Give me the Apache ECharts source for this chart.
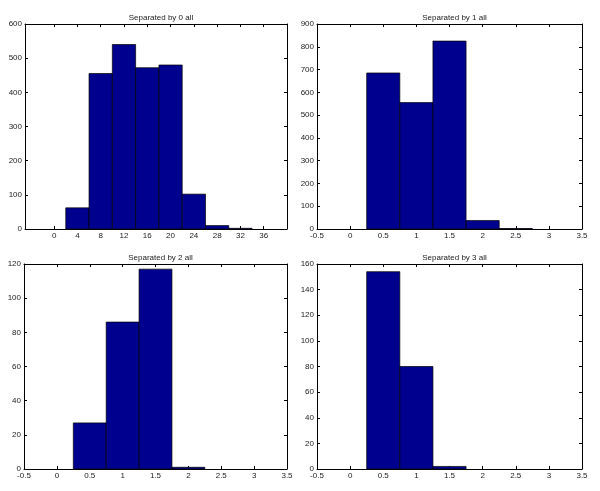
<!DOCTYPE html>
<html>
<head>
<meta charset="utf-8">
<script src="https://cdn.jsdelivr.net/npm/echarts@6/dist/echarts.min.js"></script>
<style>
html,body{margin:0;padding:0;background:#fff;}
#chart{width:600px;height:491px;}
</style>
</head>
<body>
<div id="chart"></div>
<script>
// ---- data ----
const titles = ['Separated by 0 all', 'Separated by 1 all', 'Separated by 2 all', 'Separated by 3 all'];

const centers0 = [0, 4, 8, 12, 16, 20, 24, 28, 32, 36];
const counts0  = [0, 62, 455, 540, 472, 480, 102, 10, 2, 0];

const centers1 = [0.5, 1.0, 1.5, 2.0, 2.5, 3.0];
const counts1  = [685, 555, 825, 37, 2, 0];

const centers2 = [0.5, 1.0, 1.5, 2.0, 2.5, 3.0];
const counts2  = [27, 86, 117, 1, 0, 0];

const centers3 = [0.5, 1.0, 1.5, 2.0, 2.5, 3.0];
const counts3  = [154, 80, 2, 0, 0, 0];

const binWidths = [4, 0.5, 0.5, 0.5];

const xTicks0 = [0, 4, 8, 12, 16, 20, 24, 28, 32, 36];
const xRanges = [[-5, 40], [-0.5, 3.5], [-0.5, 3.5], [-0.5, 3.5]];
const yMax = [600, 900, 120, 160];
const yStep = [100, 100, 20, 20];

// ---- layout ----
const gridsPos = [
  {left: 25, top: 24, width: 262, height: 205},
  {left: 317, top: 24, width: 265, height: 205},
  {left: 24, top: 264, width: 263, height: 205},
  {left: 317, top: 264, width: 265, height: 205}
];
const textColor = '#222';
const fontFamily = 'Liberation Sans, Arial, sans-serif';
const barColor = '#00008F';

const allCenters = [centers0, centers1, centers2, centers3];
const allCounts = [counts0, counts1, counts2, counts3];

const grid = [], xAxis = [], yAxis = [], series = [], title = [];

for (let i = 0; i < 4; i++) {
  const g = gridsPos[i];
  grid.push(Object.assign({containLabel: false, show: false}, g));
  title.push({
    text: titles[i],
    left: g.left + g.width / 2,
    top: g.top - 15,
    textAlign: 'center',
    textStyle: {fontSize: 8, fontWeight: 'normal', color: textColor, fontFamily: fontFamily}
  });
  const xBase = {
    type: 'value', gridIndex: i, min: xRanges[i][0], max: xRanges[i][1],
    splitLine: {show: false},
    axisLine: {show: true, onZero: false, lineStyle: {color: '#000', width: 1}},
    axisTick: {show: true, inside: true, length: 3, lineStyle: {color: '#000'}}
  };
  if (i === 0) {
    xBase.axisTick.customValues = xTicks0;
  } else {
    xBase.interval = 0.5;
  }
  const xBottom = JSON.parse(JSON.stringify(xBase));
  xBottom.position = 'bottom';
  xBottom.axisLabel = {show: true, fontSize: 8, color: textColor, fontFamily: fontFamily, margin: 3,
    showMinLabel: true, showMaxLabel: true};
  if (i === 0) xBottom.axisLabel.customValues = xTicks0;
  const xTop = JSON.parse(JSON.stringify(xBase));
  xTop.position = 'top';
  xTop.axisLabel = {show: false};
  if (i === 0) xTop.axisTick.customValues = xTicks0;
  xAxis.push(xBottom, xTop);

  const yBase = {
    type: 'value', gridIndex: i, min: 0, max: yMax[i], interval: yStep[i],
    splitLine: {show: false},
    axisLine: {show: true, onZero: false, lineStyle: {color: '#000', width: 1}},
    axisTick: {show: true, inside: true, length: 3, lineStyle: {color: '#000'}}
  };
  const yLeft = JSON.parse(JSON.stringify(yBase));
  yLeft.position = 'left';
  yLeft.axisLabel = {show: true, fontSize: 8, color: textColor, fontFamily: fontFamily, margin: 3};
  const yRight = JSON.parse(JSON.stringify(yBase));
  yRight.position = 'right';
  yRight.axisLabel = {show: false};
  yAxis.push(yLeft, yRight);

  const data = allCenters[i].map((c, k) => [c, allCounts[i][k]]);
  const w = binWidths[i];
  series.push({
    type: 'custom',
    xAxisIndex: i * 2,
    yAxisIndex: i * 2,
    clip: true,
    data: data,
    renderItem: function (params, api) {
      const c = api.value(0), v = api.value(1);
      if (v <= 0) return null;
      const p1 = api.coord([c - w / 2, v]);
      const p2 = api.coord([c + w / 2, 0]);
      return {
        type: 'rect',
        shape: {x: p1[0], y: p1[1], width: p2[0] - p1[0], height: p2[1] - p1[1]},
        style: {fill: barColor, stroke: '#000', lineWidth: 0.7}
      };
    }
  });
}

const chart = echarts.init(document.getElementById('chart'), null, {renderer: 'canvas'});
chart.setOption({
  backgroundColor: '#fff',
  animation: false,
  title: title,
  grid: grid,
  xAxis: xAxis,
  yAxis: yAxis,
  series: series
});
</script>
</body>
</html>
